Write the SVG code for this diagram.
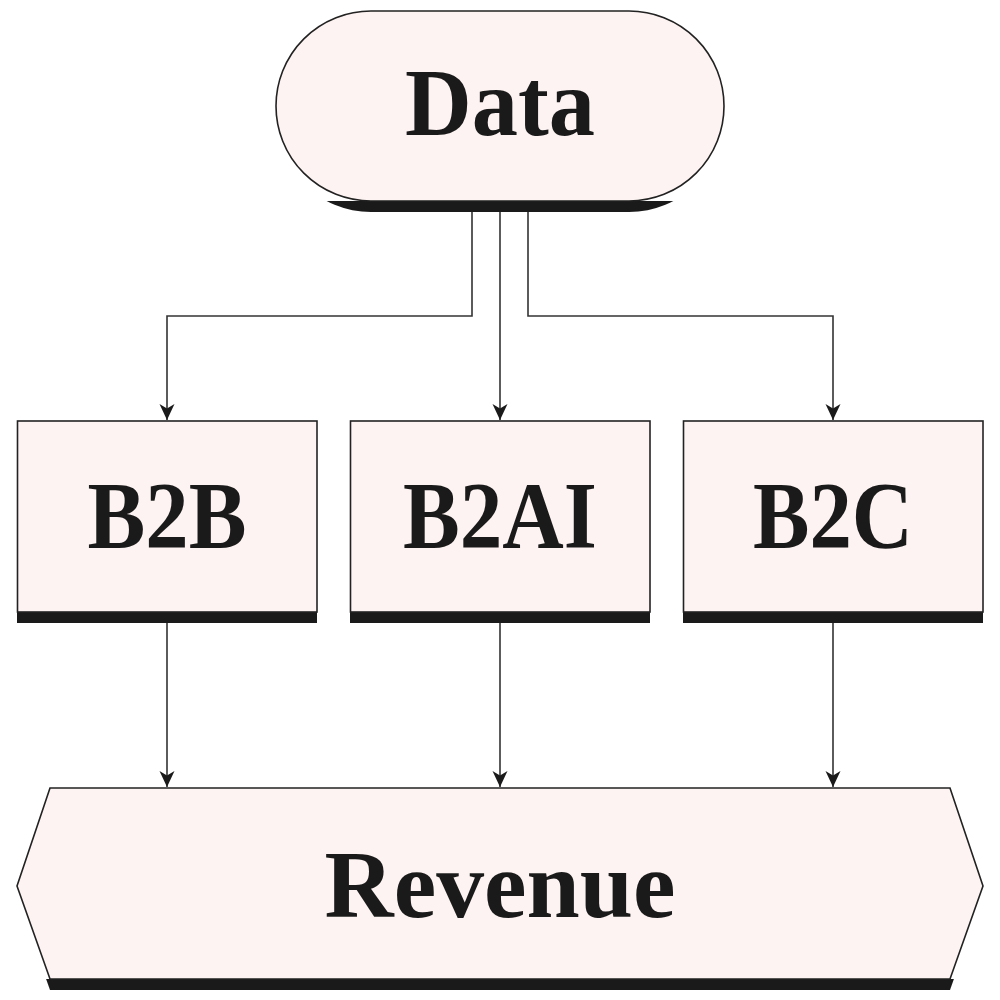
<svg xmlns="http://www.w3.org/2000/svg" width="1000" height="1000" viewBox="0 0 1000 1000">
<style>
.shape{fill:#fdf3f2;stroke:#222;stroke-width:1.6}
.shadow{fill:#1a1a1a}
.lbl{font-family:"Liberation Serif","DejaVu Serif",serif;font-weight:bold;font-size:96px;fill:#1a1a1a;text-anchor:middle}
.edge{fill:none;stroke:#333;stroke-width:1.6}
</style>
<defs>
<marker id="arr" viewBox="-17 -9 18 18" refX="0" refY="0" markerWidth="18" markerHeight="18" markerUnits="userSpaceOnUse" orient="auto">
<path d="M0,0 L-16,-7.5 L-11.5,0 L-16,7.5 Z" fill="#1a1a1a"/>
</marker>
<clipPath id="clipData"><rect x="0" y="201" width="1000" height="20"/></clipPath>
<clipPath id="clipRev"><rect x="0" y="979" width="1000" height="20"/></clipPath>
</defs>
<rect width="1000" height="1000" fill="#ffffff"/>
<g id="connectors">
<path class="edge" d="M472,205 V316 H167 V420" marker-end="url(#arr)"/>
<path class="edge" d="M500,205 V420" marker-end="url(#arr)"/>
<path class="edge" d="M528,205 V316 H833 V420" marker-end="url(#arr)"/>
<path class="edge" d="M167,618 V787" marker-end="url(#arr)"/>
<path class="edge" d="M500,618 V787" marker-end="url(#arr)"/>
<path class="edge" d="M833,618 V787" marker-end="url(#arr)"/>
</g>
<g id="node-data">
<rect class="shadow" x="276" y="22" width="448" height="190" rx="95" ry="95" clip-path="url(#clipData)"/>
<rect class="shape" x="276" y="11" width="448" height="190" rx="95" ry="95"/>
<text class="lbl" x="500" y="135" textLength="190" lengthAdjust="spacingAndGlyphs">Data</text>
</g>
<g id="node-b2b">
<rect class="shadow" x="17" y="432" width="300" height="191"/>
<rect class="shape" x="17.5" y="421" width="299.5" height="191"/>
<text class="lbl" x="167" y="548" textLength="159" lengthAdjust="spacingAndGlyphs">B2B</text>
</g>
<g id="node-b2ai">
<rect class="shadow" x="350" y="432" width="300" height="191"/>
<rect class="shape" x="350.5" y="421" width="299.5" height="191"/>
<text class="lbl" x="500" y="548" textLength="194" lengthAdjust="spacingAndGlyphs">B2AI</text>
</g>
<g id="node-b2c">
<rect class="shadow" x="683" y="432" width="300" height="191"/>
<rect class="shape" x="683.5" y="421" width="299.5" height="191"/>
<text class="lbl" x="833" y="548" textLength="160" lengthAdjust="spacingAndGlyphs">B2C</text>
</g>
<g id="node-revenue">
<polygon class="shadow" points="50,799 950,799 983,897 950,990 50,990 17,897" clip-path="url(#clipRev)"/>
<polygon class="shape" points="50,788 950,788 983,886 950,979 50,979 17,886"/>
<text class="lbl" x="500" y="917" textLength="351" lengthAdjust="spacingAndGlyphs">Revenue</text>
</g>
</svg>
